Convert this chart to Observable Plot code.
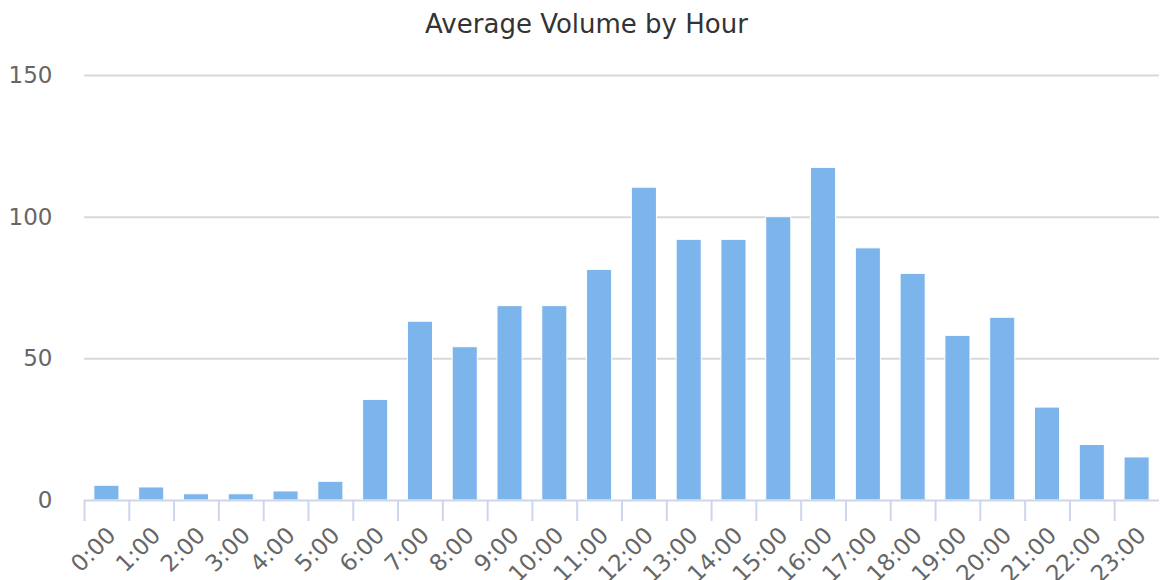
<!DOCTYPE html>
<html>
<head>
<meta charset="utf-8">
<script src="https://cdn.jsdelivr.net/npm/d3@7"></script>
<script src="https://cdn.jsdelivr.net/npm/@observablehq/plot@0.6"></script>
<style>
  html, body { margin: 0; padding: 0; background: #fff; }
  body { width: 1160px; height: 580px; overflow: hidden; font-family: "DejaVu Sans", sans-serif; }
  #title { height: 48px; line-height: 48px; font-size: 26px; color: #333; text-align: center; padding-left: 13px; box-sizing: border-box; white-space: nowrap; }
</style>
</head>
<body>
<div id="title">Average Volume by Hour</div>
<div id="chart"></div>
<script>
const hours = ["0:00","1:00","2:00","3:00","4:00","5:00","6:00","7:00","8:00","9:00","10:00","11:00","12:00","13:00","14:00","15:00","16:00","17:00","18:00","19:00","20:00","21:00","22:00","23:00"];
const volumes = [5.2, 4.6, 2.2, 2.2, 3.2, 6.6, 35.5, 63.1, 54.1, 68.6, 68.6, 81.4, 110.4, 92, 92, 100, 117.4, 89, 80, 58.1, 64.5, 32.8, 19.6, 15.2];
const yTicks = [0, 50, 100, 150];
const gridTicks = [50, 100, 150];

const data = hours.map((h, i) => ({hour: h, value: volumes[i]}));

const W = 1160, H = 532, mL = 84, mR = 1, mT = 27, mB = 80;
const step = (W - mL - mR) / hours.length;

const chart = Plot.plot({
  width: W,
  height: H,
  marginLeft: mL,
  marginRight: mR,
  marginTop: mT,
  marginBottom: mB,
  style: {fontFamily: "DejaVu Sans, sans-serif", background: "#fff", overflow: "visible"},
  x: {domain: hours, paddingInner: 0.44, paddingOuter: 0.22, align: 0.5, round: false, axis: null, label: null},
  y: {domain: [0, 150], axis: null, label: null},
  marks: [
    Plot.ruleY(gridTicks, {stroke: "#d9d9d9", strokeWidth: 2}),
    Plot.barY(data, {x: "hour", y: "value", fill: "#7cb5ec", stroke: "#ffffff", strokeWidth: 1}),
    Plot.ruleY([0], {stroke: "#ccd6eb", strokeWidth: 2}),
    Plot.axisX(hours, {tickSize: 21, tickFormat: () => "", dx: -step / 2, stroke: "#ccd6eb", strokeWidth: 2, label: null}),
    Plot.axisX(hours, {tickSize: 0, tickPadding: 31, tickRotate: -45, fontSize: 23, fill: "#666", dx: 5, label: null}),
    Plot.axisY(yTicks, {tickSize: 0, tickPadding: 32, fontSize: 23, fill: "#666", label: null})
  ]
});
document.getElementById("chart").appendChild(chart);
</script>
</body>
</html>
